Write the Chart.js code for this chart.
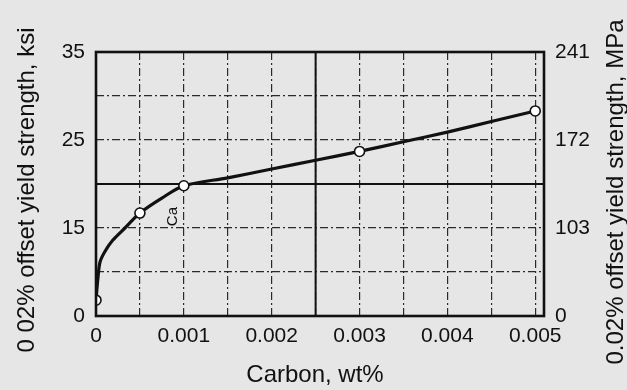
<!DOCTYPE html>
<html>
<head>
<meta charset="utf-8">
<script src="https://cdn.jsdelivr.net/npm/chart.js@4"></script>
<style>
  body { margin: 0; background: #e6e6e6; }
  #wrap { width: 627px; height: 390px; }
</style>
</head>
<body>
<div id="wrap"><canvas id="yieldChart"></canvas></div>
<script>
// values
var carbon   = [0, 0.00002, 0.000045, 0.0001, 0.00019, 0.00033, 0.0005, 0.00075, 0.001, 0.0015, 0.002, 0.0025, 0.003, 0.0035, 0.004, 0.0045, 0.005];
var strength = [6.8, 9.1, 11.1, 12.3, 13.6, 15.0, 16.7, 18.4, 19.8, 20.7, 21.7, 22.7, 23.7, 24.8, 25.9, 27.1, 28.3];

// open circles (measured points)
var pointCarbon   = [0, 0.0005, 0.001, 0.003, 0.005];
var pointStrength = [6.8, 16.7, 19.8, 23.7, 28.3];

// grid positions and tick labels as printed on the figure
var xGridValues = [0, 0.0005, 0.001, 0.0015, 0.002, 0.0025, 0.003, 0.0035, 0.004, 0.0045, 0.005];
var xTickValues = [0, 0.001, 0.002, 0.003, 0.004, 0.005];
var xTickLabels = ['0', '0.001', '0.002', '0.003', '0.004', '0.005'];
var yTickValues = [35, 25, 15, 5];
var ksiLabels   = ['35', '25', '15', '0'];
var mpaLabels   = ['241', '172', '103', '0'];

var FONT = '"Liberation Sans", Arial, sans-serif';
var INK = '#111';

function labelFor(values, labels) {
    return function (v) {
        for (var i = 0; i < values.length; i++) {
            if (Math.abs(values[i] - v) < 1e-9) return labels[i];
        }
        return '';
    };
}

// frame, heavy reference lines, rotated titles and the little "Ca" note
var decorations = {
    id: 'decorations',
    beforeDatasetsDraw: function (chart) {
        var ctx = chart.ctx, a = chart.chartArea;
        var x = chart.scales.x, y = chart.scales.y;
        ctx.save();
        ctx.strokeStyle = INK;
        ctx.lineWidth = 2;
        var yy = y.getPixelForValue(20);
        ctx.beginPath(); ctx.moveTo(a.left, yy); ctx.lineTo(a.right, yy); ctx.stroke();
        var xx = x.getPixelForValue(0.0025);
        ctx.beginPath(); ctx.moveTo(xx, a.top); ctx.lineTo(xx, a.bottom); ctx.stroke();
        ctx.restore();
    },
    afterDraw: function (chart) {
        var ctx = chart.ctx, a = chart.chartArea;
        var x = chart.scales.x, y = chart.scales.y;
        ctx.save();
        ctx.strokeStyle = INK;
        ctx.lineWidth = 2.6;
        ctx.strokeRect(a.left, a.top, a.right - a.left, a.bottom - a.top);

        ctx.fillStyle = INK;
        ctx.textAlign = 'center';
        ctx.textBaseline = 'middle';
        ctx.font = '24px ' + FONT;
        ctx.fillText('Carbon, wt%', 315, 375);

        ctx.save();
        ctx.translate(27, 190);
        ctx.rotate(-Math.PI / 2);
        ctx.fillText('0 02% offset yield strength, ksi', 0, 0);
        ctx.restore();

        ctx.save();
        ctx.translate(616, 192);
        ctx.rotate(-Math.PI / 2);
        ctx.fillText('0.02% offset yield strength, MPa', 0, 0);
        ctx.restore();

        ctx.save();
        ctx.font = '15px ' + FONT;
        ctx.translate(x.getPixelForValue(0.00088), y.getPixelForValue(16.3));
        ctx.rotate(-Math.PI / 2);
        ctx.fillText('Ca', 0, 0);
        ctx.restore();

        ctx.restore();
    }
};

var gridStyle = { color: '#2a2a2a', lineWidth: 1.2, drawTicks: false, borderDash: [8, 3, 2, 3] };
var borderStyle = { display: false, dash: [8, 3, 2, 3] };

new Chart(document.getElementById('yieldChart'), {
    type: 'line',
    data: {
        datasets: [{
            label: 'points',
            data: pointCarbon.map(function (c, i) { return { x: c, y: pointStrength[i] }; }),
            showLine: false,
            pointRadius: 5,
            pointBackgroundColor: '#ffffff',
            pointBorderColor: INK,
            pointBorderWidth: 1.6,
            order: 0
        }, {
            label: 'curve',
            data: carbon.map(function (c, i) { return { x: c, y: strength[i] }; }),
            borderColor: INK,
            borderWidth: 3.2,
            pointRadius: 0,
            tension: 0.3,
            fill: false,
            order: 1
        }]
    },
    options: {
        responsive: true,
        maintainAspectRatio: false,
        animation: false,
        layout: { padding: { top: 52, left: 0, right: 0, bottom: 0 } },
        plugins: { legend: { display: false }, tooltip: { enabled: false } },
        scales: {
            x: {
                type: 'linear',
                min: 0,
                max: 0.0051,
                grid: gridStyle,
                border: borderStyle,
                afterBuildTicks: function (s) {
                    s.ticks = xGridValues.map(function (v) { return { value: v }; });
                },
                ticks: {
                    autoSkip: false,
                    maxRotation: 0,
                    padding: 8,
                    color: INK,
                    font: { family: FONT, size: 21 },
                    callback: labelFor(xTickValues, xTickLabels)
                },
                afterFit: function (s) { s.height = 74; }
            },
            y: {
                position: 'left',
                min: 5,
                max: 35,
                grid: gridStyle,
                border: borderStyle,
                ticks: {
                    stepSize: 5,
                    padding: 11,
                    color: INK,
                    font: { family: FONT, size: 21 },
                    callback: labelFor(yTickValues, ksiLabels)
                },
                afterFit: function (s) { s.width = 96; }
            },
            y2: {
                position: 'right',
                min: 5,
                max: 35,
                grid: { display: false, drawTicks: false },
                border: { display: false },
                ticks: {
                    stepSize: 5,
                    padding: 11,
                    color: INK,
                    font: { family: FONT, size: 21 },
                    callback: labelFor(yTickValues, mpaLabels)
                },
                afterFit: function (s) { s.width = 83; }
            }
        }
    },
    plugins: [decorations]
});
</script>
</body>
</html>
